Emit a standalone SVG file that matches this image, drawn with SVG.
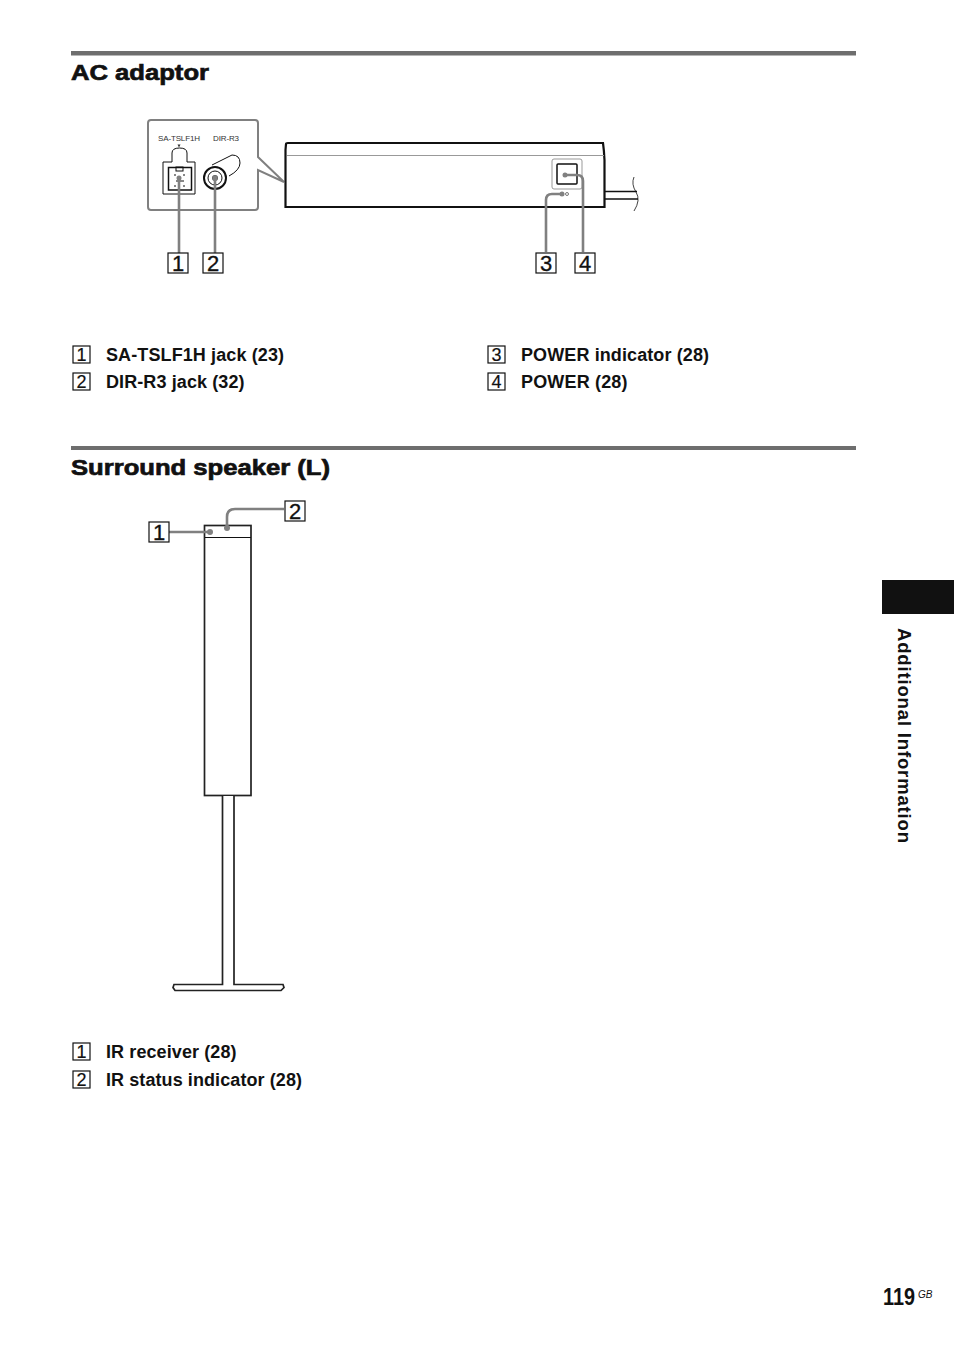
<svg xmlns="http://www.w3.org/2000/svg" width="954" height="1352" viewBox="0 0 954 1352">
<style>
text{font-family:"Liberation Sans",Arial,sans-serif;fill:#111}
.h{font-size:22.5px;font-weight:bold;stroke:#111;stroke-width:.7px}
.b{font-size:18px;font-weight:bold}
.n{font-size:18px;text-anchor:middle;stroke:#111;stroke-width:.2px}
.c{font-size:22px;text-anchor:middle;stroke:#111;stroke-width:.35px}
.s{font-size:8px;fill:#333}
.t{fill:none;stroke:#111;stroke-width:1}
.box{fill:#fff;stroke:#111;stroke-width:1.200px}
.heavy{fill:#fff;stroke:#111;stroke-width:2.200px}
.mid{fill:#fff;stroke:#222;stroke-width:1.700px}
.l{fill:none;stroke:#808080;stroke-width:2.600px}
.d{fill:#808080}
</style>
<rect width="954" height="1352" fill="#fff"/>
<rect x="71" y="51" width="785" height="4.500" fill="#6e6e6e"/>
<rect x="71" y="446" width="785" height="4" fill="#6e6e6e"/>
<text class="h" x="71" y="80" textLength="138" lengthAdjust="spacingAndGlyphs">AC adaptor</text>
<text class="h" x="71" y="475" textLength="259" lengthAdjust="spacingAndGlyphs">Surround speaker (L)</text>
<rect x="882" y="580" width="72" height="34" fill="#111"/>
<text transform="translate(898,628) rotate(90)" font-size="18.500" font-weight="bold" textLength="215" lengthAdjust="spacing">Additional Information</text>
<text x="883" y="1305" font-size="23" font-weight="bold" textLength="32" lengthAdjust="spacingAndGlyphs">119</text>
<text x="918" y="1298" font-size="10" font-style="italic">GB</text>

<g id="inset">
<path d="M151 120H255Q258 120 258 123V157L284 182L258 170V207Q258 210 255 210H151Q148 210 148 207V123Q148 120 151 120Z" fill="#fff" stroke="#808080" stroke-width="2"/>
<text class="s" x="158" y="141" textLength="42">SA-TSLF1H</text>
<text class="s" x="213" y="141" textLength="26">DIR-R3</text>
<path d="M177.500 144.500h3l-1.500 3z" fill="#333"/>
<path d="M172 162V153Q172 148 179.500 148Q187 148 187 153V162H195V194H163V162Z" class="t"/>
<rect x="168.500" y="167.500" width="23" height="22.500" fill="none" stroke="#111" stroke-width="1.500"/>
<rect x="176" y="167" width="7" height="4" class="t"/>
<path d="M174 175h2M183 175h2M174 186h2M183 186h2M176 181h8" class="t"/>
<path d="M212 165L232 155Q240 155 240 163Q240 170 229 176" class="t"/>
<circle cx="215" cy="178" r="11" fill="#fff" stroke="#111" stroke-width="2"/>
<circle cx="215" cy="178" r="7" class="t"/>
<circle cx="215" cy="178" r="3" fill="#555"/>
</g>

<g id="adaptor">
<path d="M286 144Q286 143 288 143H603Q604 150 604.500 160V207H285.500V150Z" class="heavy"/>
<path d="M287 155.500H604" fill="none" stroke="#999" stroke-width="1"/>
<path d="M605 191.500H637M605 199H638" fill="none" stroke="#111" stroke-width="1.500"/>
<path d="M634 177Q631 184 636 192T634 211" fill="none" stroke="#111" stroke-width=".8"/>
<rect x="552" y="159" width="30" height="30" rx="2" fill="#fff" stroke="#999"/>
<rect x="557" y="164" width="20" height="20" rx="1" fill="none" stroke="#111" stroke-width="1.500"/>
<circle cx="567" cy="194" r="1.500" fill="none" stroke="#555" stroke-width=".8"/>
</g>

<g id="speaker">
<rect x="204.500" y="525.500" width="46.500" height="270" class="mid"/>
<path d="M205 537.500H251" class="t"/>
<path d="M222.500 796V984.500H174L173 987.500L175 990.500H281L284 987.500L283 984.500H234V796" class="mid"/>
</g>

<g id="connectors">
<path class="l" d="M179 178V253"/><circle class="d" cx="179" cy="178" r="2.500"/>
<path class="l" d="M215 178V253"/><circle class="d" cx="215" cy="178" r="2.500"/>
<path class="l" d="M546 252V200Q546 194 552 194H561"/><circle class="d" cx="562" cy="194" r="2.500"/>
<path class="l" d="M565 175H577Q583 175 583 181V252"/><circle class="d" cx="565" cy="175" r="2.500"/>
<path class="l" d="M169 532H210"/><circle class="d" cx="210" cy="532" r="3"/>
<path class="l" d="M227 528V517Q227 509 235 509H284"/><circle class="d" cx="227" cy="528" r="3"/>
</g>

<g id="callouts">
<rect x="168" y="253" width="20" height="20" class="box"/><text class="c" x="178" y="271">1</text>
<rect x="203" y="253" width="20" height="20" class="box"/><text class="c" x="213" y="271">2</text>
<rect x="536" y="253" width="20" height="20" class="box"/><text class="c" x="546" y="271">3</text>
<rect x="575" y="253" width="20" height="20" class="box"/><text class="c" x="585" y="271">4</text>
<rect x="149" y="522" width="20" height="20" class="box"/><text class="c" x="159" y="540">1</text>
<rect x="285" y="501" width="20" height="20" class="box"/><text class="c" x="295" y="519">2</text>
</g>

<g id="legend">
<rect x="73" y="346" width="17" height="17" class="box"/><text class="n" x="81.500" y="361">1</text>
<text class="b" x="106" y="361" textLength="178">SA-TSLF1H jack (23)</text>
<rect x="73" y="373" width="17" height="17" class="box"/><text class="n" x="81.500" y="388">2</text>
<text class="b" x="106" y="388" textLength="138.500">DIR-R3 jack (32)</text>
<rect x="488" y="346" width="17" height="17" class="box"/><text class="n" x="496.500" y="361">3</text>
<text class="b" x="521" y="361" textLength="188">POWER indicator (28)</text>
<rect x="488" y="373" width="17" height="17" class="box"/><text class="n" x="496.500" y="388">4</text>
<text class="b" x="521" y="388" textLength="106.500">POWER (28)</text>
<rect x="73" y="1043" width="17" height="17" class="box"/><text class="n" x="81.500" y="1058">1</text>
<text class="b" x="106" y="1058" textLength="130.500">IR receiver (28)</text>
<rect x="73" y="1071" width="17" height="17" class="box"/><text class="n" x="81.500" y="1086">2</text>
<text class="b" x="106" y="1086" textLength="196">IR status indicator (28)</text>
</g>
</svg>
